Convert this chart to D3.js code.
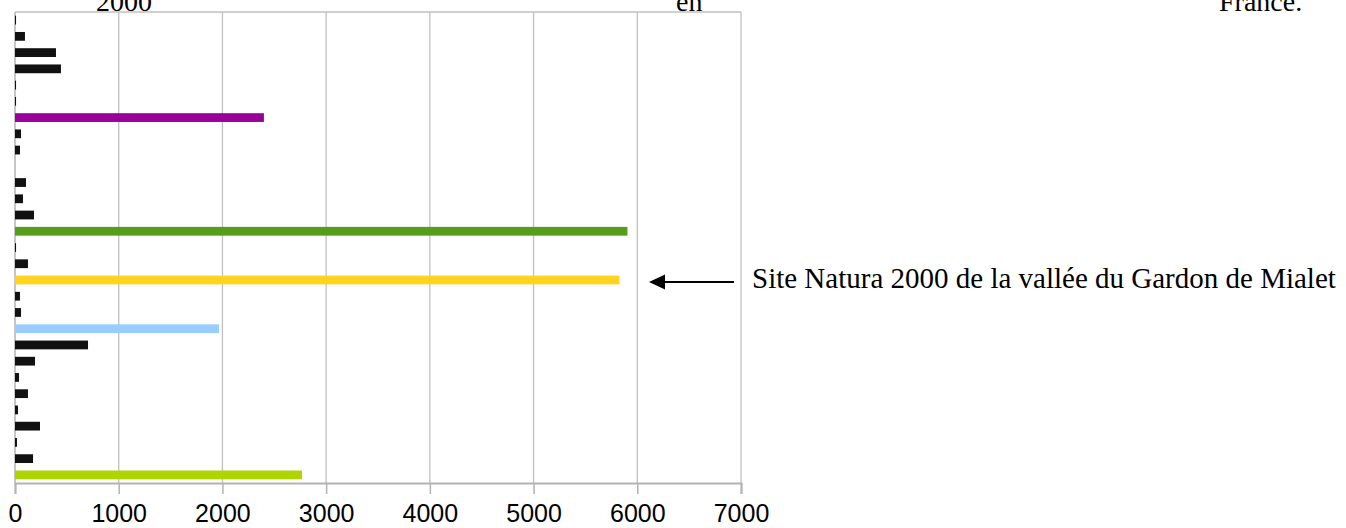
<!DOCTYPE html>
<html>
<head>
<meta charset="utf-8">
<script src="https://cdn.jsdelivr.net/npm/d3@7"></script>
<style>
  html, body { margin: 0; padding: 0; background: #fff; }
  svg { display: block; }
</style>
</head>
<body>
<svg id="chart" width="1346" height="528"></svg>
<script>
// ---- data ----
const categories = ["s1","s2","s3","s4","s5","s6","s7","s8","s9","s10","s11","s12","s13","s14","s15",
                    "s16","s17","s18","s19","s20","s21","s22","s23","s24","s25","s26","s27","s28","s29"];
const values = [10, 96, 395, 443, 10, 10, 2400, 58, 48, 0, 106, 77, 183, 5905, 10,
                125, 5828, 48, 58, 1967, 704, 193, 39, 125, 29, 241, 19, 174, 2767];
const barColors = ["#111111","#111111","#111111","#111111","#111111","#111111","#990099","#111111","#111111","#111111",
                   "#111111","#111111","#111111","#579d1c","#111111","#111111","#ffd320","#111111","#111111","#99ccff",
                   "#111111","#111111","#111111","#111111","#111111","#111111","#111111","#111111","#b0d400"];
const tickValues = [0, 1000, 2000, 3000, 4000, 5000, 6000, 7000];
const highlightCategory = "s17";
const annotationText = "Site Natura 2000 de la vallée du Gardon de Mialet";
const topWords = [{t: "2000", x: 96}, {t: "en", x: 676}, {t: "France.", x: 1219}];

// ---- layout ----
const plotL = 15, plotR = 741, plotT = 12, plotB = 483;
const svg = d3.select("#chart");

const x = d3.scaleLinear().domain([0, 7000]).range([plotL, plotR]);
const y = d3.scaleBand().domain(categories).range([plotT, plotB]).paddingInner(0.46).paddingOuter(0.23);

// gridlines
svg.append("g").selectAll("line").data(tickValues.filter(d => d > 0)).join("line")
  .attr("x1", d => x(d)).attr("x2", d => x(d))
  .attr("y1", plotT).attr("y2", plotB)
  .attr("stroke", "#c0c0c0").attr("stroke-width", 1.3);

// top frame line and left line
svg.append("line").attr("x1", plotL).attr("x2", plotR).attr("y1", plotT).attr("y2", plotT)
  .attr("stroke", "#c0c0c0").attr("stroke-width", 1.3);
svg.append("line").attr("x1", plotL).attr("x2", plotL).attr("y1", plotT).attr("y2", plotB)
  .attr("stroke", "#b3b3b3").attr("stroke-width", 1.5);

// bars
svg.append("g").selectAll("rect").data(categories).join("rect")
  .attr("x", x(0))
  .attr("y", d => y(d))
  .attr("height", y.bandwidth())
  .attr("width", (d, i) => Math.max(0, x(values[i]) - x(0)))
  .attr("fill", (d, i) => barColors[i]);

// x axis
const axis = d3.axisBottom(x).tickValues(tickValues).tickSize(11).tickPadding(10).tickFormat(d3.format("d"));
const gAxis = svg.append("g").attr("transform", `translate(0,${plotB})`).call(axis);
gAxis.select(".domain").attr("stroke", "#b3b3b3").attr("stroke-width", 2);
gAxis.selectAll(".tick line").attr("stroke", "#b3b3b3").attr("stroke-width", 1.5);
gAxis.selectAll(".tick text")
  .attr("fill", "#000")
  .style("font-family", "'Liberation Sans', Arial, sans-serif")
  .style("font-size", "25px");

// top words (clipped paragraph text)
svg.append("g").selectAll("text").data(topWords).join("text")
  .attr("x", d => d.x).attr("y", 10.5)
  .style("font-family", "'Liberation Serif', 'Times New Roman', serif")
  .style("font-size", "28px")
  .attr("fill", "#000")
  .text(d => d.t);

// arrow + annotation
const ay = y(highlightCategory) + y.bandwidth() / 2 + 2;
svg.append("line").attr("x1", 663).attr("x2", 734).attr("y1", ay).attr("y2", ay)
  .attr("stroke", "#000").attr("stroke-width", 1.8);
svg.append("path")
  .attr("d", `M649,${ay} L665,${ay - 7.5} L665,${ay + 7.5} Z`)
  .attr("fill", "#000");
svg.append("text").attr("x", 752).attr("y", ay + 6)
  .style("font-family", "'Liberation Serif', 'Times New Roman', serif")
  .style("font-size", "29px")
  .attr("fill", "#000")
  .text(annotationText);
</script>
</body>
</html>
